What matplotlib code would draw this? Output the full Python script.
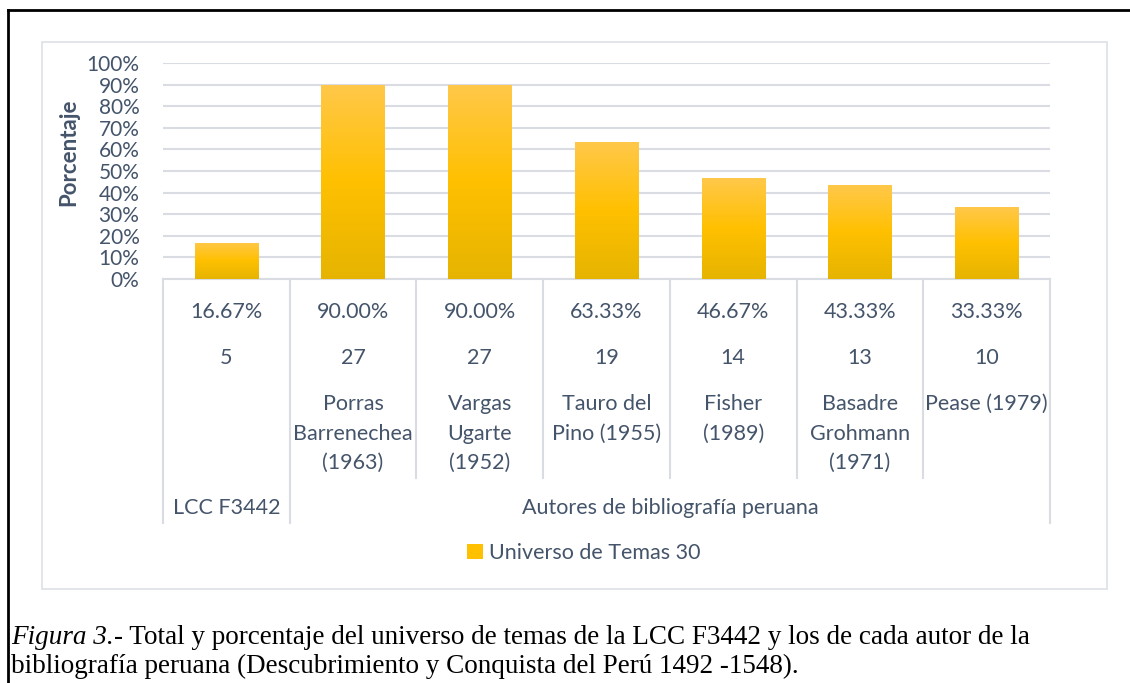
import matplotlib.pyplot as plt
import numpy as np
from matplotlib.colors import LinearSegmentedColormap
from matplotlib.lines import Line2D
from matplotlib.patches import Rectangle

# datos del gráfico
porcentajes = [16.67, 90.00, 90.00, 63.33, 46.67, 43.33, 33.33]
totales = [5, 27, 27, 19, 14, 13, 10]
autores = ['', 'Porras\nBarrenechea\n(1963)', 'Vargas\nUgarte\n(1952)',
           'Tauro del\nPino (1955)', 'Fisher\n(1989)',
           'Basadre\nGrohmann\n(1971)', 'Pease (1979)']
grupos = ['LCC F3442', 'Autores de bibliografía peruana']
grupo_tam = [1, 6]
universo = 30
yticks = np.arange(0, 101, 10)

# colores y fuentes
txt_color = '#44546A'
grid_color = '#D9DDE3'
fuente = 'Lato'
fs = 15.5

W, H = 1130, 683
fig = plt.figure(figsize=(W / 100, H / 100), dpi=100)


def fx(px):
    return px / W


def fy(py):
    return 1 - py / H


# marco exterior negro (solo arriba e izquierda, lo demás queda cortado)
fig.add_artist(Line2D([fx(8), fx(8)], [fy(10), 0], color='black', lw=2))
fig.add_artist(Line2D([fx(8), 1], [fy(10), fy(10)], color='black', lw=2))

# borde del área del gráfico
fig.add_artist(Rectangle((fx(42), fy(589)), fx(1107) - fx(42), fy(42) - fy(589),
                         transform=fig.transFigure, fill=False,
                         ec='#DDE1E6', lw=1.2))

ax = fig.add_axes([fx(163), fy(279), fx(1050) - fx(163), fy(63) - fy(279)])

x = np.arange(len(porcentajes))
bars = ax.bar(x, porcentajes, width=0.5, color='#FFC000', zorder=2,
              label=f'Universo de Temas {universo}')

# degradado de las barras
cmap = LinearSegmentedColormap.from_list('oro', ['#E6B400', '#FFC000', '#FFC84A'])
grad = np.linspace(0, 1, 256).reshape(-1, 1)
for b in bars:
    im = ax.imshow(grad, extent=[b.get_x(), b.get_x() + b.get_width(), 0, b.get_height()],
                   origin='lower', aspect='auto', cmap=cmap, zorder=3)
    im.set_clip_path(b)

ax.set_xlim(-0.5, len(porcentajes) - 0.5)
ax.set_ylim(0, 100)
ax.set_yticks(yticks)
ax.set_yticklabels([f'{v}%' for v in yticks], fontsize=15, color=txt_color, family=fuente)
ax.set_xticks([])
ax.tick_params(axis='y', length=0, pad=17)
ax.grid(axis='y', color=grid_color, lw=1.5, zorder=0)
for s in ['top', 'right', 'left']:
    ax.spines[s].set_visible(False)
ax.spines['bottom'].set_color(grid_color)
ax.spines['bottom'].set_linewidth(1.5)

ax.set_ylabel('Porcentaje', fontsize=16, fontweight='bold', color=txt_color, family=fuente)
ax.yaxis.set_label_coords((79 - 163) / 887, (279 - 152) / 216)

# tabla de etiquetas bajo el eje
tr = ax.get_xaxis_transform()


def ay(py):
    return (279 - py) / 216


for i in x:
    ax.text(i, ay(312), f'{porcentajes[i]:.2f}%', transform=tr, ha='center', va='center',
            fontsize=fs, color=txt_color, family=fuente)
    ax.text(i, ay(358), str(totales[i]), transform=tr, ha='center', va='center',
            fontsize=fs, color=txt_color, family=fuente)
    for k, linea in enumerate(autores[i].split('\n')):
        ax.text(i, ay(404 + k * 29.5), linea, transform=tr, ha='center', va='center',
                fontsize=fs, color=txt_color, family=fuente)

inicio = 0
limites = [-0.5]
for g, n in zip(grupos, grupo_tam):
    ax.text(inicio + (n - 1) / 2, ay(508), g, transform=tr, ha='center', va='center',
            fontsize=fs, color=txt_color, family=fuente)
    inicio += n
    limites.append(inicio - 0.5)

for k in range(len(porcentajes) + 1):
    xv = k - 0.5
    fondo = ay(523) if xv in limites else ay(478)
    ax.plot([xv, xv], [0, fondo], transform=tr, color=grid_color, lw=1.5, clip_on=False)

# leyenda
fig.legend(handles=[bars[0]], labels=[f'Universo de Temas {universo}'],
           loc='center', bbox_to_anchor=(fx(584), fy(553)), frameon=False,
           handlelength=0.7, handleheight=0.7, handletextpad=0.3,
           prop={'family': fuente, 'size': fs}, labelcolor=txt_color)

# pie de figura
cap_fs = 19.5
t1 = fig.text(fx(11), fy(637), 'Figura 3.', style='italic', family='Liberation Serif',
              fontsize=cap_fs, va='center', ha='left')
plt.annotate('- Total y porcentaje del universo de temas de la LCC F3442 y los de cada autor de la',
             xy=(1, 0.5), xycoords=t1, va='center', ha='left',
             family='Liberation Serif', fontsize=cap_fs, annotation_clip=False)
fig.text(fx(11), fy(666), 'bibliografía peruana (Descubrimiento y Conquista del Perú 1492 -1548).',
         family='Liberation Serif', fontsize=cap_fs, va='center', ha='left')

fig.savefig('out.png', dpi=100)
